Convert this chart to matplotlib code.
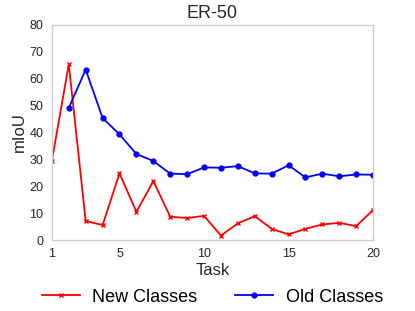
import matplotlib
matplotlib.use("Agg")
import matplotlib.pyplot as plt

tasks_new = list(range(1, 21))
new_classes = [29.5, 65.3, 7.1, 5.6, 24.8, 10.5, 21.9, 8.7, 8.2, 9.0,
               1.7, 6.2, 8.9, 4.2, 2.1, 4.2, 5.8, 6.4, 5.2, 11.2]
tasks_old = list(range(2, 21))
old_classes = [49.1, 63.4, 45.4, 39.3, 32.0, 29.4, 24.7, 24.5, 27.0,
               26.9, 27.5, 24.8, 24.7, 27.8, 23.3, 24.7, 23.7, 24.4, 24.3]
xticks = [1, 5, 10, 15, 20]
yticks = [0, 10, 20, 30, 40, 50, 60, 70, 80]

plt.rcParams['font.family'] = ['Liberation Sans', 'DejaVu Sans']

fig = plt.figure(figsize=(4.15, 3.11), dpi=100)
ax = fig.add_axes([0.125, 0.228, 0.774, 0.692])
l1, = ax.plot(tasks_new, new_classes, color='red', marker='x', markersize=3.5,
              markeredgewidth=1.0, linewidth=1.3, label='New Classes')
l2, = ax.plot(tasks_old, old_classes, color='blue', marker='o', markersize=3.5,
              linewidth=1.3, label='Old Classes')
ax.set_xlim(1, 20)
ax.set_ylim(0, 80)
ax.set_xticks(xticks)
ax.set_yticks(yticks)
ax.tick_params(axis='both', length=0, labelsize=9, colors='#262626', pad=6)
for s in ax.spines.values():
    s.set_color('#cccccc')
    s.set_linewidth(1.0)
ax.set_title('ER-50', fontsize=13, color='#262626', pad=5)
ax.set_xlabel('Task', fontsize=12, color='#262626', labelpad=2)
ax.set_ylabel('mIoU', fontsize=12, color='#262626', labelpad=2)

fig.legend(handles=[l1, l2], loc='center', bbox_to_anchor=(0.512, 0.045), ncol=2,
           frameon=False, fontsize=13, handlelength=2.1, columnspacing=2.1,
           handletextpad=0.7)

fig.savefig('out.png', dpi=100)
